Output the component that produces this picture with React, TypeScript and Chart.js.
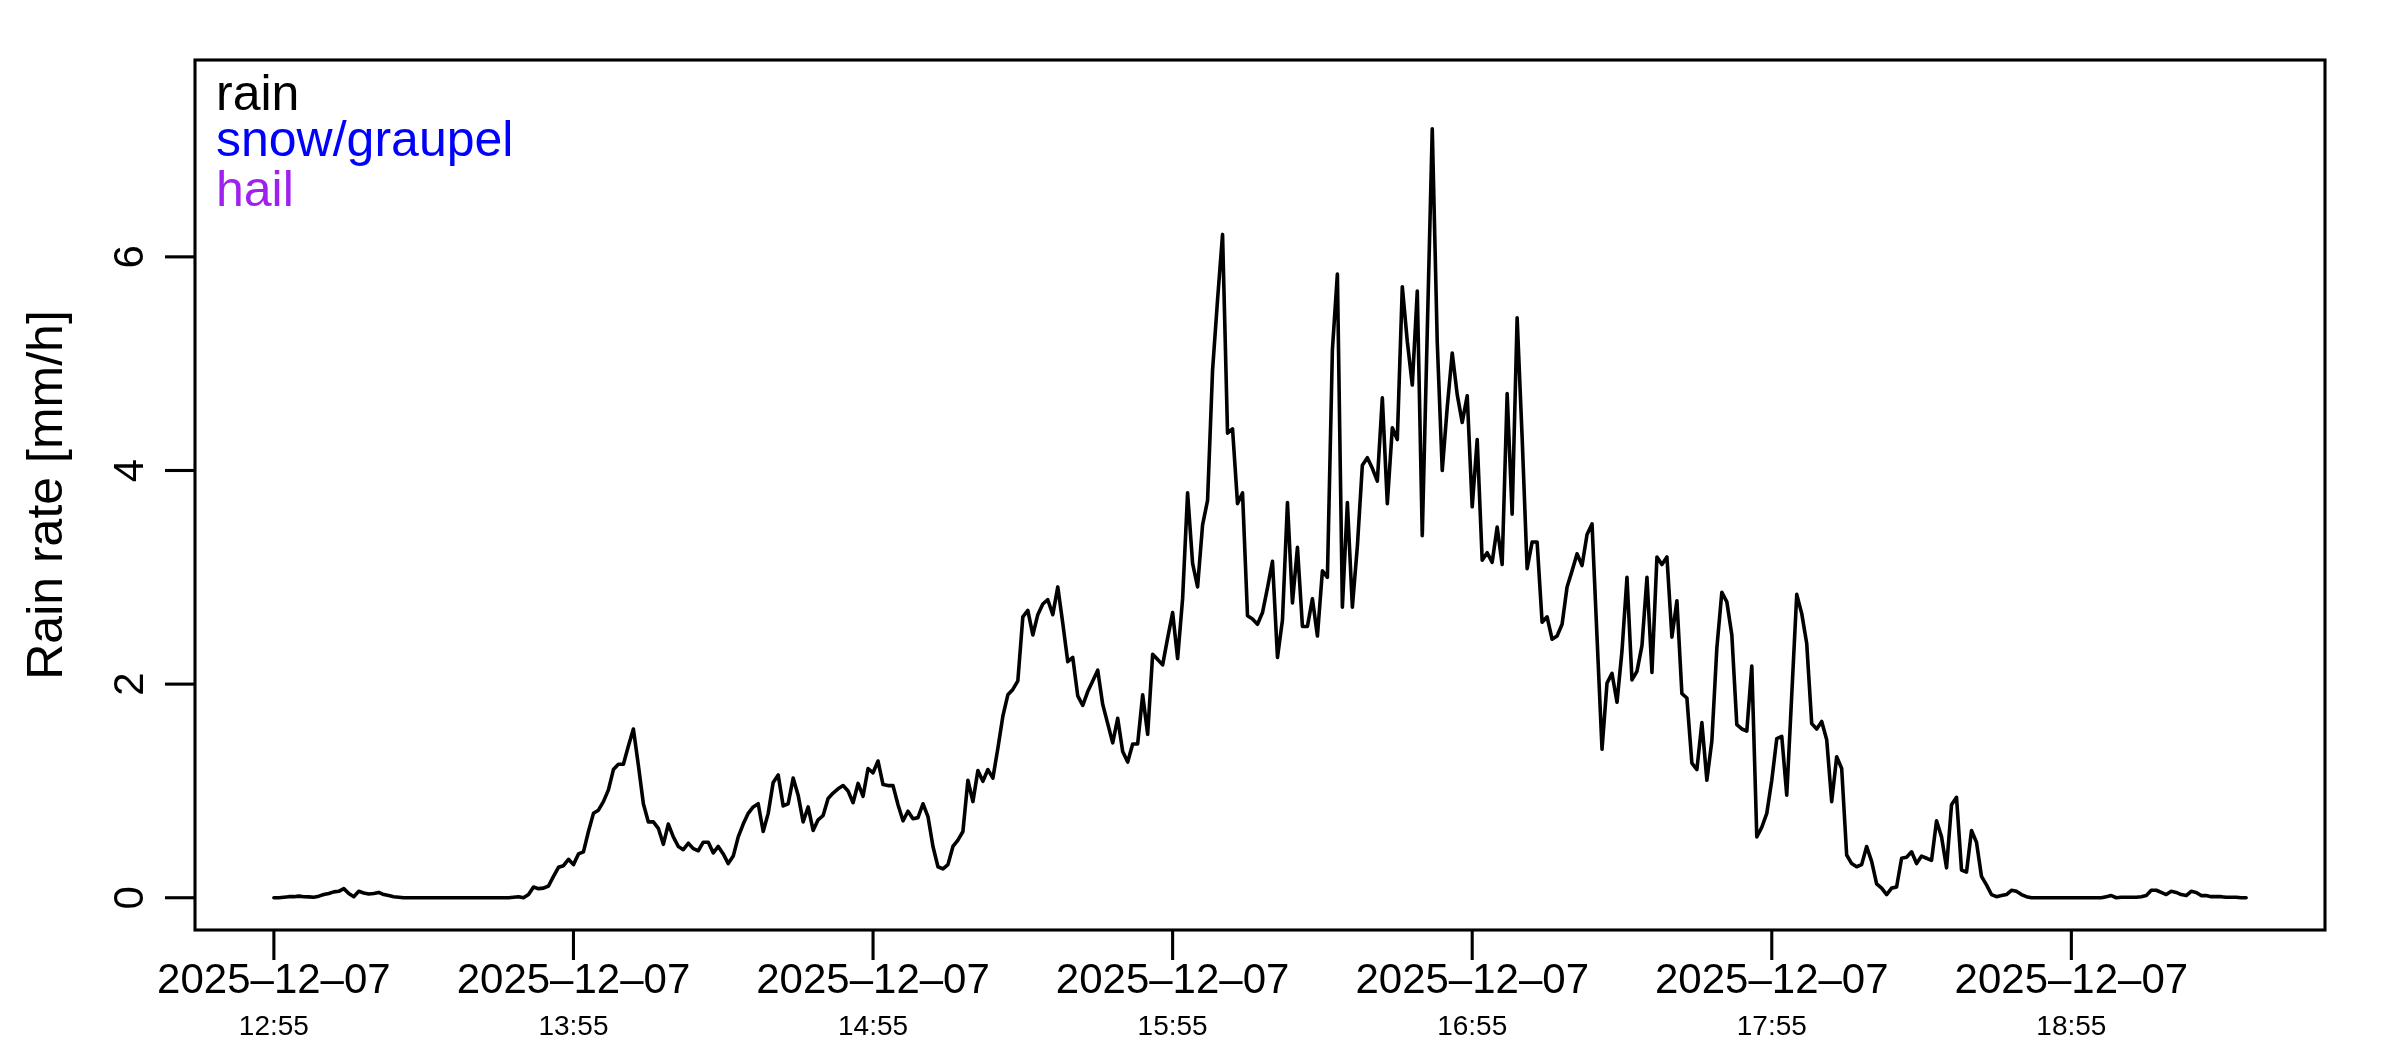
import React, { useEffect, useRef } from "react";
import { Chart, registerables } from "chart.js";

Chart.register(...registerables);

// Rain rate [mm/h], one value per minute starting 2025-12-07 12:55
const RAIN_RATE: number[] = [
  // 0-25
  0, 0, 0.005, 0.01, 0.01, 0.015, 0.01, 0.008, 0.005, 0.015,
  0.03, 0.04, 0.055, 0.06, 0.085, 0.04, 0.01, 0.06, 0.045, 0.035,
  0.04, 0.05, 0.03, 0.02, 0.01, 0.005,
  // 26-47
  0, 0, 0, 0, 0, 0, 0, 0, 0, 0, 0, 0, 0, 0, 0, 0, 0, 0, 0, 0, 0, 0,
  // 48-59
  0.005, 0.01, 0, 0.03, 0.1, 0.085, 0.09, 0.11, 0.2, 0.285, 0.3, 0.36,
  // 60-69
  0.31, 0.41, 0.43, 0.62, 0.79, 0.82, 0.9, 1.01, 1.2, 1.25,
  // 70-79
  1.25, 1.42, 1.58, 1.24, 0.88, 0.71, 0.71, 0.65, 0.5, 0.69,
  // 80-89
  0.57, 0.48, 0.45, 0.51, 0.46, 0.44, 0.52, 0.52, 0.42, 0.48,
  // 90-99
  0.41, 0.32, 0.39, 0.57, 0.69, 0.79, 0.85, 0.88, 0.62, 0.79,
  // 100-109
  1.08, 1.15, 0.86, 0.88, 1.12, 0.96, 0.71, 0.85, 0.63, 0.73,
  // 110-119
  0.77, 0.93, 0.98, 1.02, 1.05, 1.0, 0.89, 1.07, 0.95, 1.21,
  // 120-129
  1.17, 1.28, 1.06, 1.05, 1.05, 0.87, 0.72, 0.81, 0.74, 0.75,
  // 130-139
  0.88, 0.76, 0.48, 0.29, 0.27, 0.31, 0.48, 0.54, 0.62, 1.1,
  // 140-149
  0.9, 1.19, 1.09, 1.2, 1.12, 1.4, 1.7, 1.9, 1.95, 2.03,
  // 150-159
  2.63, 2.69, 2.46, 2.65, 2.75, 2.79, 2.65, 2.91, 2.57, 2.21,
  // 160-169
  2.25, 1.89, 1.8, 1.93, 2.03, 2.13, 1.81, 1.63, 1.45, 1.68,
  // 170-179
  1.37, 1.27, 1.44, 1.44, 1.9, 1.53, 2.28, 2.23, 2.18, 2.43,
  // 180-189
  2.67, 2.24, 2.8, 3.79, 3.13, 2.91, 3.49, 3.72, 4.94, 5.6,
  // 190-199
  6.21, 4.35, 4.39, 3.69, 3.79, 2.64, 2.61, 2.56, 2.67, 2.9,
  // 200-209
  3.15, 2.25, 2.6, 3.7, 2.76, 3.28, 2.54, 2.54, 2.8, 2.45,
  // 210-219
  3.06, 3.0, 5.13, 5.84, 2.72, 3.7, 2.72, 3.29, 4.05, 4.12,
  // 220-229
  4.02, 3.9, 4.68, 3.69, 4.4, 4.29, 5.72, 5.21, 4.8, 5.68,
  // 230-239
  3.39, 5.3, 7.2, 5.2, 4.0, 4.59, 5.1, 4.71, 4.45, 4.7,
  // 240-249
  3.66, 4.29, 3.16, 3.23, 3.14, 3.47, 3.12, 4.72, 3.59, 5.43,
  // 250-259
  4.31, 3.08, 3.33, 3.33, 2.58, 2.63, 2.42, 2.45, 2.56, 2.91,
  // 260-269
  3.06, 3.22, 3.11, 3.4, 3.5, 2.44, 1.39, 2.01, 2.1, 1.83,
  // 270-279
  2.31, 3.0, 2.04, 2.12, 2.36, 3.0, 2.11, 3.19, 3.12, 3.19,
  // 280-289
  2.44, 2.78, 1.91, 1.87, 1.26, 1.2, 1.64, 1.1, 1.47, 2.34,
  // 290-299
  2.86, 2.77, 2.46, 1.62, 1.58, 1.56, 2.17, 0.57, 0.66, 0.79,
  // 300-309
  1.1, 1.49, 1.51, 0.96, 1.9, 2.84, 2.66, 2.38, 1.63, 1.58,
  // 310-319
  1.65, 1.48, 0.9, 1.32, 1.21, 0.4, 0.32, 0.29, 0.31, 0.48,
  // 320-329
  0.34, 0.13, 0.09, 0.03, 0.09, 0.1, 0.37, 0.38, 0.43, 0.32,
  // 330-339
  0.39, 0.37, 0.35, 0.72, 0.57, 0.28, 0.87, 0.94, 0.26, 0.24,
  // 340-349
  0.63, 0.52, 0.2, 0.12, 0.03, 0.01, 0.02, 0.03, 0.07, 0.06,
  // 350-351
  0.03, 0.01,
  // 352-366
  0, 0, 0, 0, 0, 0, 0, 0, 0, 0, 0, 0, 0, 0, 0,
  // 367-369
  0.01, 0.02, 0,
  // 370-379
  0.005, 0.005, 0.005, 0.005, 0.01, 0.02, 0.07, 0.07, 0.05, 0.03,
  // 380-389
  0.06, 0.05, 0.03, 0.02, 0.06, 0.05, 0.02, 0.02, 0.01, 0.01,
  // 390-395
  0.01, 0.005, 0.005, 0.005, 0, 0,
];

// x tick positions in minutes after 12:55
const X_TICK_MINUTES = [0, 60, 120, 180, 240, 300, 360];
const X_TICK_DATES = [
  "2025–12–07", "2025–12–07", "2025–12–07", "2025–12–07",
  "2025–12–07", "2025–12–07", "2025–12–07",
];
const X_TICK_TIMES = ["12:55", "13:55", "14:55", "15:55", "16:55", "17:55", "18:55"];
const Y_TICKS = [0, 2, 4, 6];
const Y_TITLE = "Rain rate [mm/h]";
const LEGEND_LABELS = ["rain", "snow/graupel", "hail"];
const LEGEND_COLORS = ["#000000", "#0000FF", "#A020F0"];

const FONT = '"Liberation Sans", Arial, Helvetica, sans-serif';

export default function App() {
  const ref = useRef<HTMLCanvasElement>(null);

  useEffect(() => {
    document.body.style.margin = "0";
    document.body.style.overflow = "hidden";
    const canvas = ref.current;
    if (!canvas) return;

    const axesPlugin = {
      id: "rStyleAxes",
      afterDraw(chart: any) {
        const ctx = chart.ctx as CanvasRenderingContext2D;
        const area = chart.chartArea;
        const xs = chart.scales.x;
        const ys = chart.scales.y;
        ctx.save();
        ctx.strokeStyle = "#000";
        ctx.fillStyle = "#000";
        ctx.lineWidth = 3.1;
        ctx.lineCap = "butt";
        // box
        ctx.strokeRect(area.left, area.top, area.right - area.left, area.bottom - area.top);

        // x ticks
        X_TICK_MINUTES.forEach((m, i) => {
          const px = xs.getPixelForValue(m);
          ctx.beginPath();
          ctx.moveTo(px, area.bottom);
          ctx.lineTo(px, area.bottom + 30);
          ctx.stroke();
          ctx.textAlign = "center";
          ctx.textBaseline = "alphabetic";
          ctx.font = `42px ${FONT}`;
          ctx.fillText(X_TICK_DATES[i], px, area.bottom + 63);
          ctx.font = `28px ${FONT}`;
          ctx.fillText(X_TICK_TIMES[i], px, area.bottom + 105);
        });

        // y ticks
        Y_TICKS.forEach((v) => {
          const py = ys.getPixelForValue(v);
          ctx.beginPath();
          ctx.moveTo(area.left - 30, py);
          ctx.lineTo(area.left, py);
          ctx.stroke();
          ctx.save();
          ctx.translate(area.left - 52, py);
          ctx.rotate(-Math.PI / 2);
          ctx.textAlign = "center";
          ctx.textBaseline = "alphabetic";
          ctx.font = `42px ${FONT}`;
          ctx.fillText(String(v), 0, 0);
          ctx.restore();
        });

        // y title
        ctx.save();
        ctx.translate(62, (area.top + area.bottom) / 2);
        ctx.rotate(-Math.PI / 2);
        ctx.textAlign = "center";
        ctx.textBaseline = "alphabetic";
        ctx.font = `50px ${FONT}`;
        ctx.fillText(Y_TITLE, 0, 0);
        ctx.restore();

        // legend text
        const legendBaselines = [110, 156, 206];
        ctx.textAlign = "left";
        ctx.textBaseline = "alphabetic";
        ctx.font = `50px ${FONT}`;
        LEGEND_LABELS.forEach((lab, i) => {
          ctx.fillStyle = LEGEND_COLORS[i];
          ctx.fillText(lab, area.left + 21, legendBaselines[i]);
        });
        ctx.restore();
      },
    };

    const chart = new Chart(canvas, {
      type: "line",
      data: {
        datasets: [
          {
            label: "rain",
            data: RAIN_RATE.map((y, i) => ({ x: i, y })),
            borderColor: "#000000",
            borderWidth: 3.6,
            borderJoinStyle: "round",
            borderCapStyle: "round",
            pointRadius: 0,
            tension: 0,
            fill: false,
          },
        ],
      },
      options: {
        animation: false,
        responsive: false,
        devicePixelRatio: 1,
        events: [],
        layout: { padding: { left: 195, right: 75, top: 60, bottom: 120 } },
        plugins: { legend: { display: false }, tooltip: { enabled: false } },
        scales: {
          x: { type: "linear", min: -15.8, max: 410.8, display: false },
          y: { type: "linear", min: -0.302, max: 7.843, display: false },
        },
      },
      plugins: [axesPlugin],
    } as any);

    return () => chart.destroy();
  }, []);

  return (
    <div style={{ width: 2400, height: 1050, background: "#ffffff" }}>
      <canvas
        ref={ref}
        width={2400}
        height={1050}
        style={{ display: "block", width: 2400, height: 1050 }}
      />
    </div>
  );
}
